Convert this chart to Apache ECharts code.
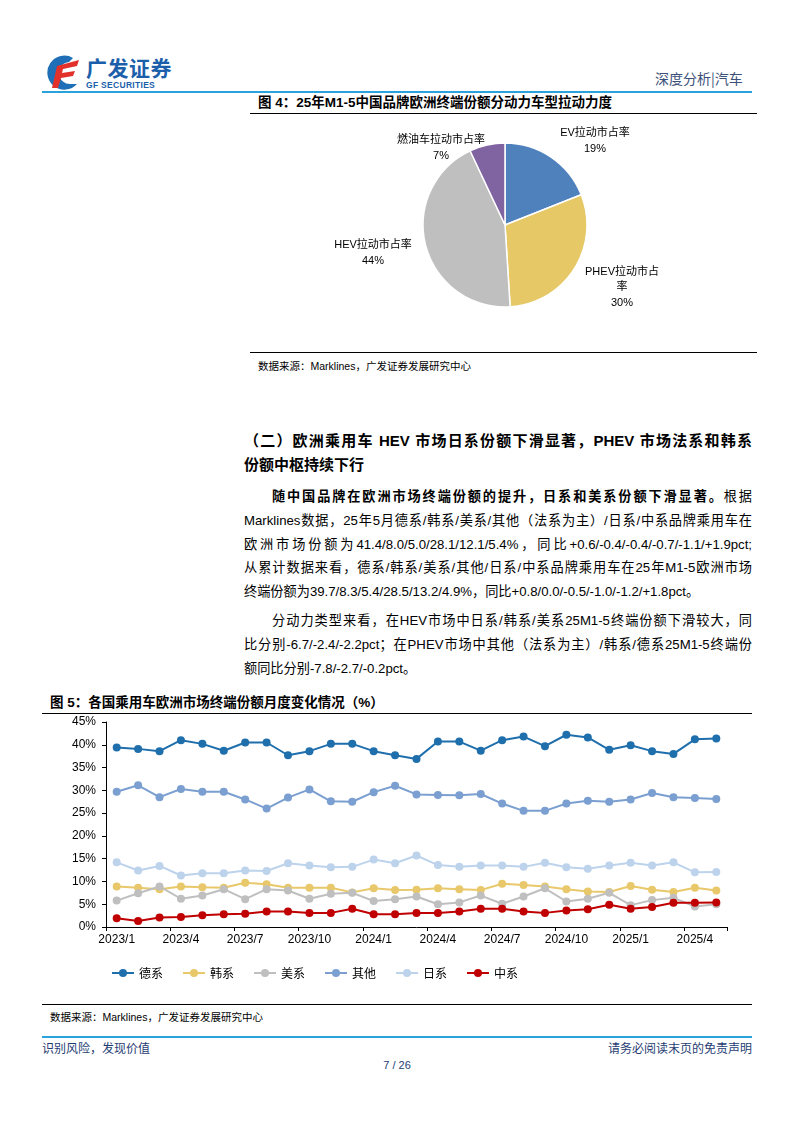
<!DOCTYPE html>
<html><head><meta charset="utf-8">
<script src="https://cdn.jsdelivr.net/npm/echarts@6/dist/echarts.min.js"></script>
<style>
html,body{margin:0;padding:0;background:#fff;}
#page{position:relative;width:794px;height:1123px;overflow:hidden;font-family:"Liberation Sans","Noto Sans CJK SC",sans-serif;color:#000;}
.abs{position:absolute;}
.ln{position:absolute;left:244px;width:508px;font-size:13.2px;line-height:20px;text-align:justify;text-align-last:justify;}
.last{text-align-last:left;}
.hd{font-weight:bold;font-size:15px;}
.figt{position:absolute;font-weight:bold;font-size:13.5px;line-height:16px;}
.src{position:absolute;font-size:10.5px;line-height:14px;}
.rule{position:absolute;height:0;border-top:1.3px solid #000;}
</style></head>
<body><div id="page">
<!-- header -->
<svg class="abs" style="left:43px;top:54px" width="40" height="38" viewBox="0 0 40 38">
  <path d="M30 4 A17 17 0 1 0 34 30 L28 30 A11 11 0 1 1 26 8 Z" fill="#1e6fb8"/>
  <path d="M14 12 L36 6 L34 12 L20 15 L19 19 L32 17 L30 22 L18 24 L15 34 L9 34 Z" fill="#e2312a"/>
</svg>
<div class="abs" style="left:86px;top:55px;font-size:21px;font-weight:bold;color:#1b5fab;letter-spacing:0.5px;line-height:24px;font-family:'Noto Sans CJK SC'">广发证券</div>
<div class="abs" style="left:86px;top:80px;font-size:8.5px;font-weight:bold;color:#1b5fab;line-height:10px;letter-spacing:0.3px">GF SECURITIES</div>
<div class="abs" style="left:655px;top:69px;font-size:14px;color:#3b4f78;line-height:18px;font-family:'Noto Sans CJK SC'">深度分析|汽车</div>
<div class="abs" style="left:42px;top:91px;width:710px;height:2px;background:#2aa3dc"></div>

<!-- figure 4 -->
<div class="figt" style="left:258px;top:95px">图 4：25年M1-5中国品牌欧洲终端份额分动力车型拉动力度</div>
<div class="rule" style="left:250px;top:113px;width:507px"></div>
<div id="pie" class="abs" style="left:250px;top:118px;width:507px;height:232px"></div>
<div class="rule" style="left:250px;top:352px;width:507px"></div>
<div class="src" style="left:258px;top:359px">数据来源：Marklines，广发证券发展研究中心</div>

<!-- text -->
<div class="ln hd" style="top:431px">（二）欧洲乘用车 HEV 市场日系份额下滑显著，PHEV 市场法系和韩系</div>
<div class="ln hd last" style="top:455px">份额中枢持续下行</div>
<div class="ln" style="top:487px;left:272px;width:480px"><b>随中国品牌在欧洲市场终端份额的提升，日系和美系份额下滑显著。</b>根据</div>
<div class="ln" style="top:511px">Marklines数据，25年5月德系/韩系/美系/其他（法系为主）/日系/中系品牌乘用车在</div>
<div class="ln" style="top:535px">欧洲市场份额为41.4/8.0/5.0/28.1/12.1/5.4%，同比+0.6/-0.4/-0.4/-0.7/-1.1/+1.9pct;</div>
<div class="ln" style="top:558px">从累计数据来看，德系/韩系/美系/其他/日系/中系品牌乘用车在25年M1-5欧洲市场</div>
<div class="ln last" style="top:582px">终端份额为39.7/8.3/5.4/28.5/13.2/4.9%，同比+0.8/0.0/-0.5/-1.0/-1.2/+1.8pct。</div>
<div class="ln" style="top:611px;left:272px;width:480px">分动力类型来看，在HEV市场中日系/韩系/美系25M1-5终端份额下滑较大，同</div>
<div class="ln" style="top:635px">比分别-6.7/-2.4/-2.2pct；在PHEV市场中其他（法系为主）/韩系/德系25M1-5终端份</div>
<div class="ln last" style="top:659px">额同比分别-7.8/-2.7/-0.2pct。</div>

<!-- figure 5 -->
<div class="figt" style="left:50px;top:695px">图 5：各国乘用车欧洲市场终端份额月度变化情况（%）</div>
<div class="rule" style="left:42px;top:713px;width:710px"></div>
<div id="line" class="abs" style="left:0px;top:715px;width:794px;height:285px"></div>
<div class="rule" style="left:42px;top:1004px;width:710px"></div>
<div class="src" style="left:50px;top:1010px">数据来源：Marklines，广发证券发展研究中心</div>

<!-- footer -->
<div class="abs" style="left:42px;top:1036px;width:710px;height:2px;background:#2aa3dc"></div>
<div class="abs" style="left:42px;top:1040px;font-size:12px;color:#1f3d73;line-height:16px;font-family:'Noto Sans CJK SC'">识别风险，发现价值</div>
<div class="abs" style="right:42px;top:1040px;font-size:12px;color:#1f3d73;line-height:16px;font-family:'Noto Sans CJK SC'">请务必阅读末页的免责声明</div>
<div class="abs" style="left:0;width:794px;text-align:center;top:1058px;font-size:11px;color:#1f3d73;line-height:14px">7 / 26</div>
</div>
<script>
// ---- pie data ----
const pieNames = ['EV拉动市占率', 'PHEV拉动市占率', 'HEV拉动市占率', '燃油车拉动市占率'];
const pieValues = [19, 30, 44, 7];
// ---- line data ----
const months = ['2023/1','2023/2','2023/3','2023/4','2023/5','2023/6','2023/7','2023/8','2023/9','2023/10','2023/11','2023/12',
  '2024/1','2024/2','2024/3','2024/4','2024/5','2024/6','2024/7','2024/8','2024/9','2024/10','2024/11','2024/12',
  '2025/1','2025/2','2025/3','2025/4','2025/5'];
const yTicks = [0, 5, 10, 15, 20, 25, 30, 35, 40, 45];
const seriesNames = ['德系', '韩系', '美系', '其他', '日系', '中系'];
const deSeries = [39.4,39.1,38.6,41.0,40.2,38.7,40.5,40.5,37.7,38.6,40.2,40.2,38.6,37.7,36.9,40.7,40.7,38.7,41.0,41.8,39.7,42.2,41.6,38.9,39.9,38.6,38.0,41.2,41.4];
const krSeries = [8.9,8.6,8.3,8.9,8.7,8.6,9.7,9.4,8.6,8.6,8.6,7.6,8.5,8.1,8.2,8.5,8.3,8.1,9.5,9.2,8.9,8.3,7.8,7.7,9.0,8.2,7.7,8.6,8.0];
const usSeries = [5.8,7.4,8.9,6.2,6.9,8.3,6.1,8.3,8.0,6.2,7.3,7.5,5.7,6.1,6.7,5.0,5.4,6.9,5.1,6.7,8.5,5.6,6.2,7.5,4.8,5.9,6.4,4.5,5.0];
const otherSeries = [29.7,31.1,28.5,30.3,29.7,29.7,28.0,26.0,28.4,30.2,27.6,27.5,29.6,31.0,29.1,29.0,28.9,29.2,27.1,25.5,25.5,27.1,27.7,27.5,28.0,29.4,28.5,28.3,28.1];
const jpSeries = [14.2,12.4,13.4,11.3,11.8,11.8,12.4,12.3,14.0,13.5,13.1,13.2,14.8,14.0,15.7,13.6,13.2,13.5,13.5,13.2,14.1,13.1,12.8,13.5,14.1,13.5,14.2,12.0,12.1];
const cnSeries = [1.9,1.3,2.1,2.2,2.6,2.8,2.9,3.4,3.4,3.1,3.1,4.0,2.8,2.8,3.1,3.1,3.4,4.0,4.0,3.4,3.1,3.6,3.9,4.9,4.0,4.4,5.3,5.3,5.4];

const pieColors = ['#4f81bd', '#e6c866', '#bfbfbf', '#8064a2'];
const pieLabelPos = [[345, 23], [372, 169], [123, 135], [191, 30]];
const pie = echarts.init(document.getElementById('pie'));
pie.setOption({
  animation: false,
  series: [{
    type: 'pie',
    center: [255, 107],
    radius: [0, 82],
    startAngle: 90,
    clockwise: true,
    itemStyle: { borderColor: '#fff', borderWidth: 1.5 },
    labelLine: { show: false },
    label: {
      show: true,
      position: 'outside',
      formatter: p => p.name + '\n' + p.value + '%',
      fontSize: 11,
      lineHeight: 15.5,
      color: '#000',
      align: 'center',
      fontFamily: 'Liberation Sans, Noto Sans CJK SC'
    },
    labelLayout: p => ({ x: pieLabelPos[p.dataIndex][0], y: pieLabelPos[p.dataIndex][1], align: 'center', verticalAlign: 'middle', hideOverlap: false }),
    data: pieNames.map((n, i) => {
      const d = { name: n, value: pieValues[i], itemStyle: { color: pieColors[i] } };
      if (i === 1) d.label = { width: 84, overflow: 'break' };
      return d;
    })
  }]
});

const lineColors = ['#1f6fad', '#e8c86a', '#bfbfbf', '#7a9fd0', '#bdd3ec', '#c00000'];
const allSeries = [deSeries, krSeries, usSeries, otherSeries, jpSeries, cnSeries];
const line = echarts.init(document.getElementById('line'));
line.setOption({
  animation: false,
  color: lineColors,
  grid: { left: 106, right: 67, top: 7, bottom: 73 },
  legend: {
    left: 106, top: 247,
    itemWidth: 22, itemHeight: 10, itemGap: 19,
    textStyle: { fontSize: 12, color: '#000', fontFamily: 'Noto Sans CJK SC' },
    data: seriesNames
  },
  xAxis: {
    type: 'category',
    data: months,
    boundaryGap: true,
    axisLine: { lineStyle: { color: '#000', width: 1 } },
    axisTick: { show: true, interval: 2, length: 4, lineStyle: { color: '#000' } },
    axisLabel: { interval: 2, fontSize: 12, color: '#000', margin: 7, fontFamily: 'Liberation Sans' }
  },
  yAxis: {
    type: 'value',
    min: yTicks[0], max: yTicks[yTicks.length - 1], interval: 5,
    splitLine: { show: false },
    axisLine: { show: true, lineStyle: { color: '#000', width: 1 } },
    axisTick: { show: true, length: 4, lineStyle: { color: '#000' } },
    axisLabel: { formatter: '{value}%', fontSize: 12, color: '#000', margin: 10, fontFamily: 'Liberation Sans' }
  },
  series: seriesNames.map((n, i) => ({
    name: n,
    type: 'line',
    data: allSeries[i],
    symbol: 'circle',
    symbolSize: 8,
    lineStyle: { width: 2 },
    z: i === 5 ? 10 : (i === 0 ? 9 : 2 + i)
  }))
});
</script>
</body></html>
